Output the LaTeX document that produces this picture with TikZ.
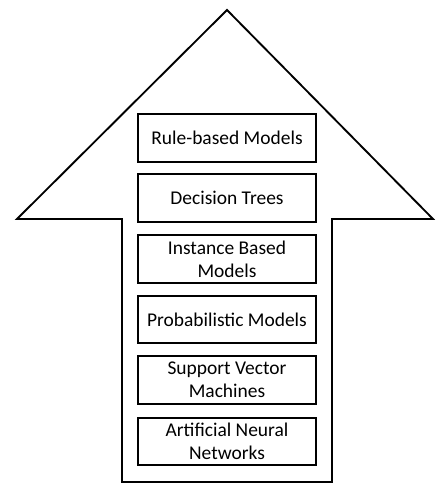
\documentclass[tikz,border=0pt]{standalone}
\usepackage{fontspec}
\setmainfont{Carlito}
\begin{document}
\begin{tikzpicture}[x=0.75pt,y=-0.75pt,line join=miter,
    model/.style={draw,line width=1.6pt,minimum width=133pt,minimum height=35.5pt,
      align=center,inner sep=1pt,font=\fontsize{14.6pt}{17.5pt}\selectfont}]
    \useasboundingbox (0,0) rectangle (435,484);
    % Arrow
    \draw[line width=1.4pt](227,10) -- (433,219) -- (332,219) -- (332,482)
      -- (122,482) -- (122,219) -- (17,219) -- cycle;

    % Models
    \node (rule) at (227,138) [model] {Rule-based Models};
    \node (tree) at (227,198) [model] {Decision Trees};
    \node (inst) at (227,259) [model] {Instance Based\\Models};
    \node (prob) at (227,319.5) [model] {Probabilistic Models};
    \node (svm) at (227,380) [model] {Support Vector\\Machines};
    \node (ann) at (227,441.5) [model] {Artificial Neural\\Networks};
  \end{tikzpicture}
\end{document}
